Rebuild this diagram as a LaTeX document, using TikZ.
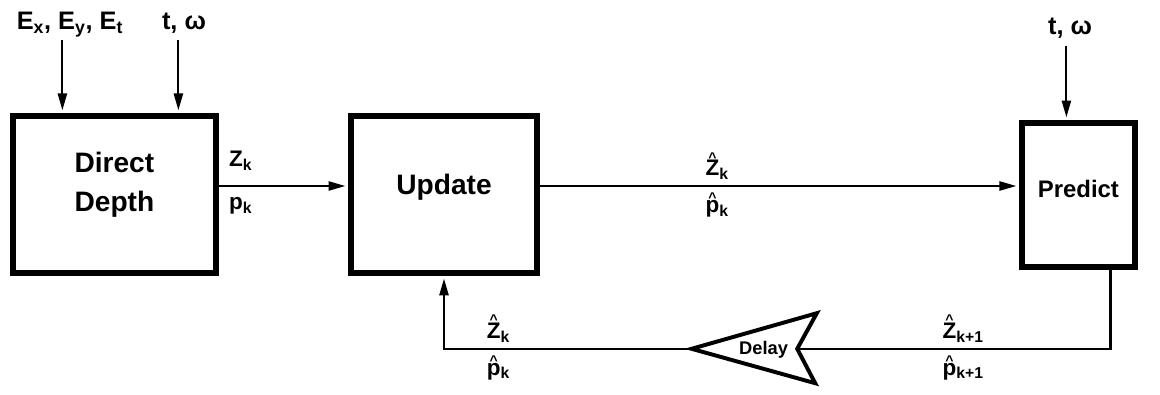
\documentclass[tikz,border=0pt]{standalone}
\usepackage{fontspec}
\setmainfont{Liberation Sans}
\usetikzlibrary{arrows.meta,calc}

% small hat over a letter (estimate)
\newcommand{\est}[1]{\leavevmode\setbox0\hbox{#1}\rlap{\raisebox{\dimexpr\ht0-1.4pt\relax}{\makebox[\wd0]{\fontsize{10}{10}\selectfont\textasciicircum}}}\box0}

\begin{document}
\begin{tikzpicture}[
    blk/.style={draw, line width=4pt, inner sep=0pt, align=center, font=\fontsize{20}{28}\selectfont\bfseries},
    arr/.style={-{Triangle[length=12pt,width=6.5pt]}, line width=1.5pt, shorten >=2pt},
    lin/.style={line width=1.5pt},
    lbl/.style={font=\fontsize{16}{18}\selectfont\bfseries, inner sep=4pt},
    inp/.style={font=\fontsize{18}{20}\selectfont\bfseries, inner sep=0pt, anchor=base}
]
\useasboundingbox (0,0) rectangle (29,-9.875);

\node[blk, minimum width=5.075cm, minimum height=3.925cm, text depth=18pt] (ddepth) at (2.86,-4.86) {Direct\\Depth};
\node[blk, minimum width=4.65cm, minimum height=3.925cm, text depth=14pt] (update) at (11.1,-4.86) {Update};
\node[blk, minimum width=2.825cm, minimum height=3.6cm, text depth=8.5pt, font=\fontsize{17}{20}\selectfont\bfseries] (predict) at (26.96,-4.875) {Predict};

% inputs
\node[inp] (elbl) at (1.75,-0.75) {E\textsubscript{x}, E\textsubscript{y}, E\textsubscript{t}};
\node[inp] (twlbl) at (4.6,-0.75) {t, ω};
\node[inp] (twlbl2) at (26.75,-0.87) {t, ω};
\coordinate (ein) at (1.56,-1.0);
\coordinate (tin) at (4.46,-1.0);
\coordinate (tin2) at (26.66,-1.15);
\draw[arr] (ein) -- (ein |- ddepth.north);
\draw[arr] (tin) -- (tin |- ddepth.north);
\draw[arr] (tin2) -- (tin2 |- predict.north);

% forward path
\draw[arr] ([yshift=0.21cm]ddepth.east) -- node[lbl, above, pos=0.17, yshift=0.22cm] {Z\textsubscript{k}} node[lbl, below, pos=0.17, yshift=-0.12cm] {p\textsubscript{k}} ([yshift=0.21cm]ddepth.east -| update.west);
\draw[arr] ([yshift=0.21cm]update.east) -- node[lbl, above, pos=0.37] {\est{Z}\textsubscript{k}} node[lbl, below, pos=0.37] {\est{p}\textsubscript{k}} ([yshift=0.21cm]update.east -| predict.west);

% delay
\coordinate (dtip) at (17.29,-8.72);
\coordinate (dup) at (20.42,-7.83);
\coordinate (dnotch) at (19.93,-8.72);
\coordinate (dlow) at (20.38,-9.58);
\draw[line width=2.8pt, line join=miter] (dtip) -- (dup) -- (dnotch) -- (dlow) -- cycle;
\node[font=\fontsize{13}{13}\selectfont\bfseries, inner sep=0pt] (delay) at (19.09,-8.74) {Delay};

% feedback
\coordinate (pout) at ($(predict.south east)+(-0.68,0)$);
\draw[lin] (pout) |- node[lbl, above, pos=0.735] {\est{Z}\textsubscript{k+1}} node[lbl, below, pos=0.735] {\est{p}\textsubscript{k+1}} (dnotch);
\draw[arr] (dtip) -| node[lbl, above, pos=0.39] {\est{Z}\textsubscript{k}} node[lbl, below, pos=0.39] {\est{p}\textsubscript{k}} (update.south);
\end{tikzpicture}
\end{document}
